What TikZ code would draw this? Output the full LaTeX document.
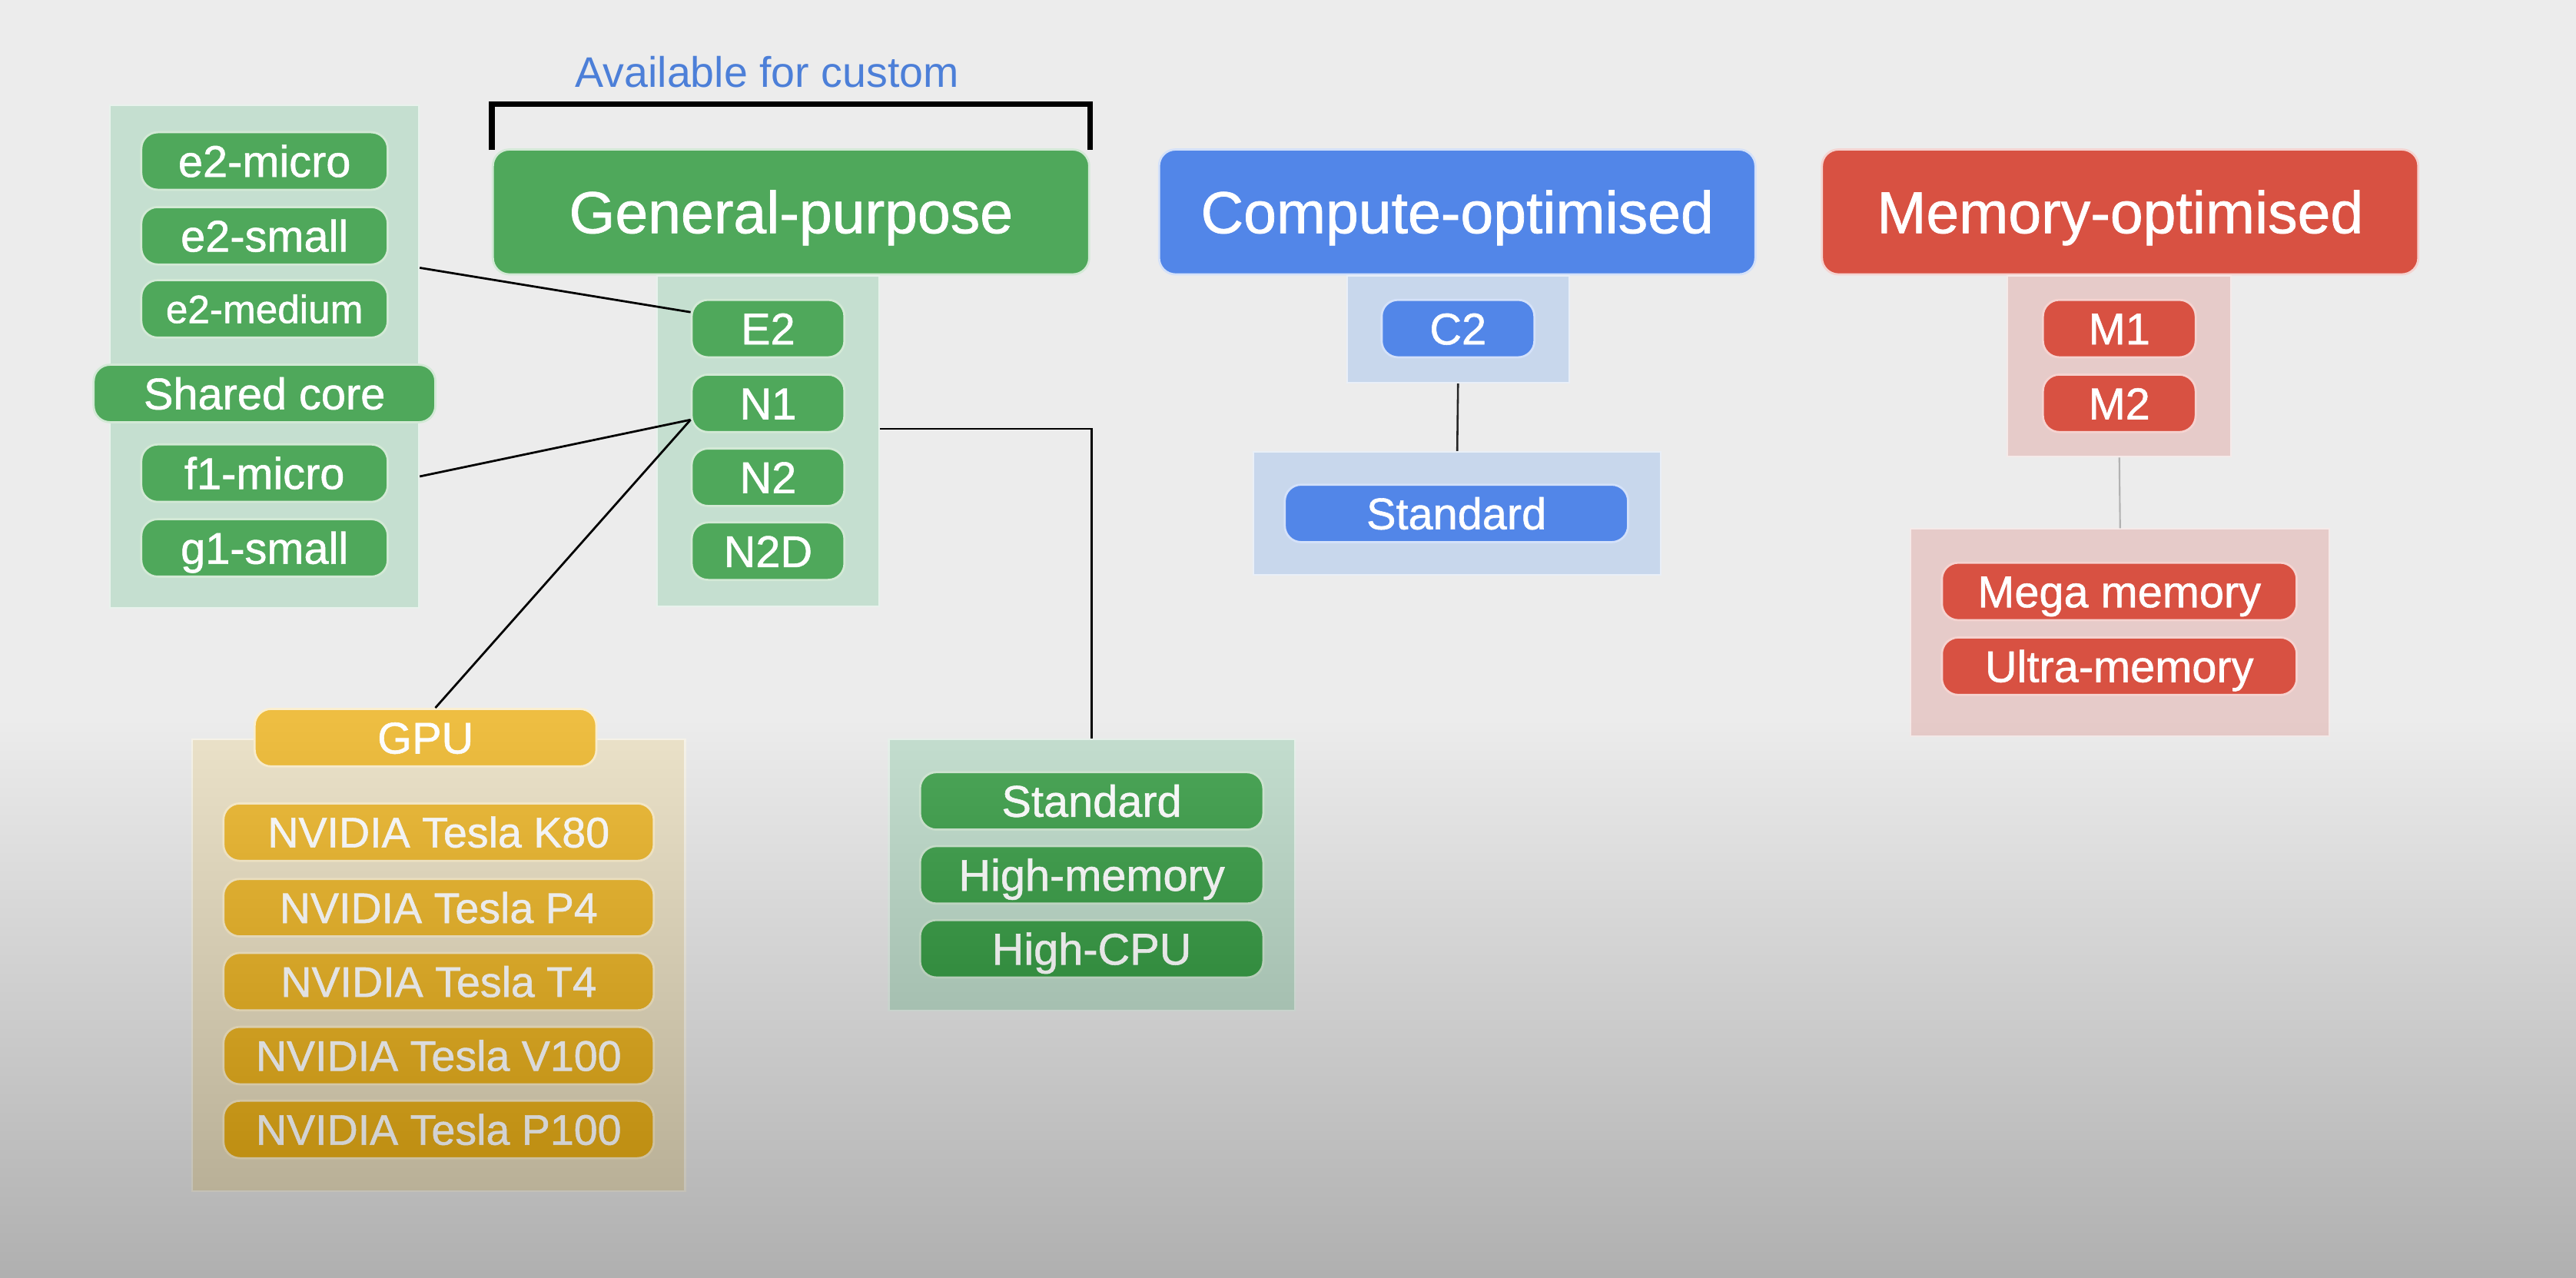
\documentclass[tikz,border=0pt]{standalone}
\usepackage{fontspec}
\setmainfont{Liberation Sans}
\newfontfamily\medfont{Liberation Sans}[FakeBold=1]
\definecolor{bg}{HTML}{ECECEC}
\definecolor{gp}{HTML}{4FA85B}
\definecolor{gplight}{HTML}{C5DFD0}
\definecolor{cb}{HTML}{5286E8}
\definecolor{cblight}{HTML}{C8D7EC}
\definecolor{mr}{HTML}{D85142}
\definecolor{mrlight}{HTML}{E6CBC9}
\definecolor{gy}{HTML}{EEBE42}
\definecolor{gylight}{HTML}{ECE3CA}
\definecolor{avail}{HTML}{4C7FD8}
\begin{document}
\begin{tikzpicture}[x=1pt,y=-1pt,
  pill/.style={rounded corners=10pt, draw=white!75!#1, line width=1.3pt, fill=#1, text=white,
    minimum height=35pt, inner sep=0pt, text height=19.3pt, text depth=0pt,
    font=\medfont\fontsize{27}{30}\selectfont},
  smalltxt/.style={font=\medfont\fontsize{26}{30}\selectfont, text height=18.6pt},
  tinytxt/.style={font=\medfont\fontsize{24}{28}\selectfont, text height=17.2pt},
  header/.style={rounded corners=10pt, draw=white!75!#1, line width=1.3pt, fill=#1, text=white,
    minimum width=363pt, minimum height=76pt, inner sep=0pt, text height=25.8pt, text depth=0pt,
    font=\medfont\fontsize{36}{40}\selectfont},
  panel/.style={fill=#1, draw=white!60!#1, line width=1pt, inner sep=0pt},
  link/.style={line width=1.3pt, black},
  shadelayer/.style={fill=black, fill opacity=0.0046}
]
\useasboundingbox (0,0) rectangle (1568,777.5);
\fill[bg] (-20,-20) rectangle (1590,800);

% ---------- General purpose ----------
\node[text=avail, font=\fontsize{26}{30}\selectfont, inner sep=0pt] (avail) at (467,44) {Available for custom};
\node[header=gp] (gp) at (481.5,129) {General-purpose};
\draw[line width=3.5pt, line cap=butt] ([yshift=-1pt]gp.north west) -- ++(0,-28) -| ([yshift=-1pt]gp.north east);

\node[panel=gplight, minimum width=135pt, minimum height=201pt] (gpsub) at (467.5,268.5) {};
\node[panel=gplight, minimum width=188pt, minimum height=306pt] (lbox) at (161,217) {};
\node[panel=gylight, minimum width=300pt, minimum height=275pt] (gbox) at (267,587.5) {};
\node[panel=gplight, minimum width=247pt, minimum height=165pt] (tbox) at (664.5,532.5) {};

\node[pill=gp, minimum width=93pt] (E2) at (467.5,200) {E2};
\node[pill=gp, minimum width=93pt] (N1) at (467.5,245.5) {N1};
\node[pill=gp, minimum width=93pt] (N2) at (467.5,290.5) {N2};
\node[pill=gp, minimum width=93pt] (N2D) at (467.5,335.5) {N2D};

\node[pill=gp, minimum width=150pt] (e2micro) at (161,98) {e2-micro};
\node[pill=gp, minimum width=150pt] (e2small) at (161,143.5) {e2-small};
\node[pill=gp, minimum width=150pt, tinytxt] (e2medium) at (161,188) {e2-medium};
\node[pill=gp, minimum width=208pt] (shared) at (161,239.5) {Shared core};
\node[pill=gp, minimum width=150pt] (f1micro) at (161,288) {f1-micro};
\node[pill=gp, minimum width=150pt] (g1small) at (161,333.5) {g1-small};

\node[pill=gy, minimum width=208pt] (gpu) at (259,449) {GPU};
\node[pill=gy, minimum width=262pt, smalltxt] (k80) at (267,506.5) {NVIDIA Tesla K80};
\node[pill=gy, minimum width=262pt, smalltxt] (p4) at (267,552.5) {NVIDIA Tesla P4};
\node[pill=gy, minimum width=262pt, smalltxt] (t4) at (267,597.5) {NVIDIA Tesla T4};
\node[pill=gy, minimum width=262pt, smalltxt] (v100) at (267,642.5) {NVIDIA Tesla V100};
\node[pill=gy, minimum width=262pt, smalltxt] (p100) at (267,687.5) {NVIDIA Tesla P100};

\node[pill=gp, minimum width=209pt] (gstd) at (664.5,487.5) {Standard};
\node[pill=gp, minimum width=209pt] (ghm) at (664.5,532.5) {High-memory};
\node[pill=gp, minimum width=209pt] (ghc) at (664.5,577.5) {High-CPU};

\draw[link] ([yshift=54pt]lbox.east) -- ([yshift=10pt]E2.west);
\draw[link] ([yshift=-73pt]lbox.east) -- ([yshift=-10pt]N1.west);
\draw[link] ([xshift=6pt]gpu.north) -- ([yshift=-10pt]N1.west);
\draw[link] ([yshift=7.5pt]gpsub.east) -| (tbox.north);

% ---------- Compute optimised ----------
\node[header=cb] (co) at (887,129) {Compute-optimised};
\node[panel=cblight, minimum width=135pt, minimum height=65pt] (csub) at (887.5,200.5) {};
\node[panel=cblight, minimum width=248pt, minimum height=75pt] (cbox) at (887,312.5) {};
\node[pill=cb, minimum width=93pt] (C2) at (887.5,200) {C2};
\node[pill=cb, minimum width=209pt] (cstd) at (886.5,312.5) {Standard};
\draw[line width=1.2pt, black!85] (csub.south) -- (cbox.north);

% ---------- Memory optimised ----------
\node[header=mr] (mo) at (1290.5,129) {Memory-optimised};
\node[panel=mrlight, minimum width=136pt, minimum height=110pt] (msub) at (1290,223) {};
\node[panel=mrlight, minimum width=255pt, minimum height=126pt] (mbox) at (1290.5,385) {};
\node[pill=mr, minimum width=93pt] (M1) at (1290,200) {M1};
\node[pill=mr, minimum width=93pt] (M2) at (1290,245.5) {M2};
\node[pill=mr, minimum width=216pt] (mega) at (1290,360) {Mega memory};
\node[pill=mr, minimum width=216pt] (ultra) at (1290,405.5) {Ultra-memory};
\draw[line width=1pt, black!30] (msub.south) -- (mbox.north);

% ---------- darkening towards the bottom (stacked translucent layers) ----------
\foreach \k in {0,...,59}
  \fill[shadelayer] (-20,{440+\k*5.65}) rectangle (1590,800);
\end{tikzpicture}
\end{document}
